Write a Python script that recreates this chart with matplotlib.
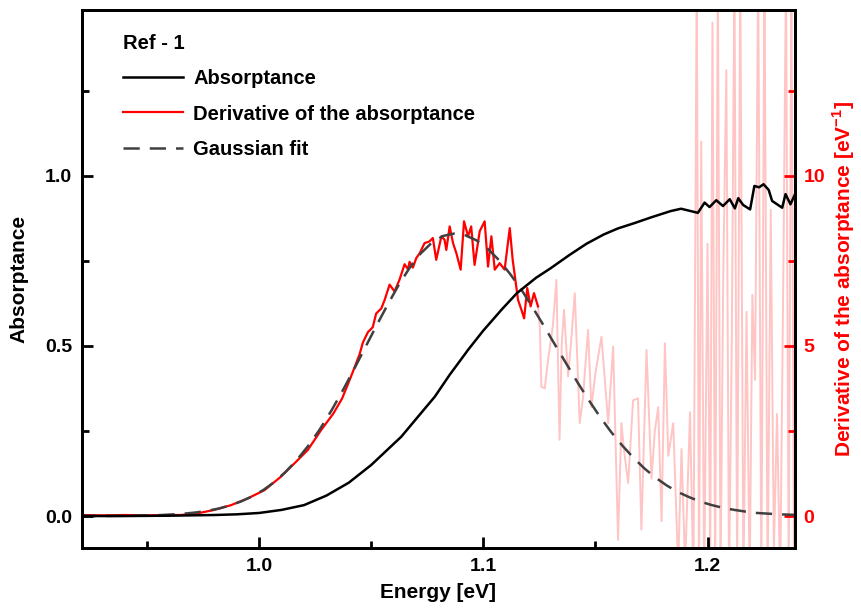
import matplotlib
matplotlib.use("Agg")
import matplotlib.pyplot as plt
from matplotlib.ticker import MultipleLocator

plt.rcParams['font.family'] = ['Liberation Sans', 'DejaVu Sans']
plt.rcParams['font.weight'] = 'bold'
plt.rcParams['mathtext.fontset'] = 'custom'
plt.rcParams['mathtext.bf'] = 'Liberation Sans:bold'
plt.rcParams['mathtext.rm'] = 'Liberation Sans:bold'

# absorptance (left axis)
abs_e = [0.920, 0.940, 0.960, 0.980, 0.990, 1.000, 1.010, 1.020, 1.030, 1.040,
         1.050, 1.0634, 1.070, 1.0784, 1.085, 1.0934, 1.100, 1.1085, 1.115, 1.1235,
         1.130, 1.1384, 1.146, 1.1536, 1.160, 1.1675, 1.175, 1.1835, 1.1882, 1.1957,
         1.1987, 1.2009, 1.2039, 1.2069, 1.2099, 1.2122, 1.2137, 1.2159, 1.219, 1.2209,
         1.2230, 1.2250, 1.2273, 1.2288, 1.2333, 1.2348, 1.2370, 1.2393, 1.2408]
abs_a = [0.000, 0.000, 0.001, 0.003, 0.005, 0.009, 0.018, 0.032, 0.060, 0.098,
         0.150, 0.233, 0.285, 0.351, 0.415, 0.490, 0.545, 0.609, 0.655, 0.700,
         0.728, 0.767, 0.800, 0.827, 0.845, 0.861, 0.878, 0.896, 0.903, 0.891,
         0.921, 0.908, 0.928, 0.911, 0.931, 0.904, 0.934, 0.914, 0.901, 0.970,
         0.966, 0.975, 0.958, 0.926, 0.906, 0.946, 0.916, 0.950, 0.931]

# derivative of the absorptance, fitted range (right axis)
der_e = [0.920, 0.930, 0.940, 0.950, 0.960, 0.965, 0.9726, 0.980, 0.9875, 0.995,
         1.0024, 1.0098, 1.0158, 1.0217, 1.0277, 1.033, 1.037, 1.041, 1.0448, 1.0463,
         1.0485, 1.0507, 1.0522, 1.0545, 1.056, 1.0582, 1.0604, 1.0626, 1.0649, 1.0664,
         1.0671, 1.0686, 1.0701, 1.0716, 1.0738, 1.076, 1.0775, 1.079, 1.0813, 1.0827,
         1.0835, 1.085, 1.0865, 1.088, 1.0899, 1.0914, 1.0932, 1.0946, 1.0961, 1.0984,
         1.1006, 1.1021, 1.1036, 1.1051, 1.1073, 1.1095, 1.1118, 1.1131, 1.1155, 1.1170,
         1.1182, 1.1196, 1.1211, 1.1226, 1.1244]
der_d = [0.03, 0.02, 0.03, 0.02, 0.03, 0.03, 0.08, 0.18, 0.32, 0.52,
         0.76, 1.16, 1.55, 1.94, 2.53, 3.00, 3.45, 4.10, 4.75, 5.10,
         5.40, 5.55, 5.95, 6.10, 6.35, 6.80, 6.60, 6.94, 7.40, 7.25,
         7.47, 7.30, 7.58, 7.72, 8.02, 8.07, 8.17, 7.53, 8.22, 8.12,
         7.82, 8.51, 8.02, 7.72, 7.24, 8.66, 8.22, 8.51, 7.38, 8.37,
         8.66, 7.33, 8.22, 7.24, 7.43, 7.24, 8.46, 7.53, 6.35, 6.06,
         5.81, 6.70, 6.16, 6.55, 6.16]

# derivative of the absorptance, noisy high-energy part
noise_e = [1.1244, 1.1252, 1.1259, 1.1274, 1.1289, 1.1310, 1.1326, 1.1340, 1.1350, 1.1360,
           1.1378, 1.1390, 1.1408, 1.1430, 1.1445, 1.1467, 1.1482, 1.1500, 1.1527, 1.1557,
           1.1579, 1.1601, 1.1616, 1.1630, 1.1646, 1.1668, 1.1690, 1.1705, 1.1728, 1.1750,
           1.1765, 1.1780, 1.1795, 1.1810, 1.1825, 1.1847, 1.1869, 1.1884, 1.1900, 1.1922,
           1.1937, 1.1952, 1.1962, 1.1972, 1.1985, 1.2000, 1.2012, 1.2022, 1.2034, 1.2046,
           1.2058, 1.2070, 1.2084, 1.2096, 1.2108, 1.2120, 1.2132, 1.2146, 1.2160, 1.2174,
           1.2188, 1.2200, 1.2212, 1.2226, 1.2240, 1.2254, 1.2268, 1.2282, 1.2296, 1.2310,
           1.2324, 1.2338, 1.2350, 1.2362, 1.2374, 1.2386, 1.2398, 1.2408]
noise_d = [6.16, 5.57, 3.80, 3.75, 4.60, 5.57, 6.94, 2.24, 5.10, 6.06,
           4.10, 5.00, 6.55, 2.73, 3.50, 5.47, 3.20, 4.20, 5.27, 2.73,
           4.98, -0.70, 2.73, 1.80, 0.97, 3.40, 3.46, -0.40, 4.88, 1.10,
           2.50, 3.20, -0.15, 5.08, 1.77, 2.73, -1.50, 1.97, -1.50, 3.05,
           -2.00, 16.0, -2.0, 11.0, -2.0, 8.0, -1.5, 14.5, -2.0, 16.0,
           -2.0, 7.0, 13.1, -2.0, 5.0, 16.0, -2.0, 16.0, -2.0, 6.0,
           -2.0, 6.5, 4.0, 16.0, -2.0, 16.0, -2.0, 9.0, -1.0, 3.0,
           -2.0, 7.0, 16.0, -2.0, 16.0, -2.0, 16.0, -2.0]

# Gaussian fit (right axis)
fit_e = [0.920, 0.927, 0.932, 0.937, 0.942, 0.947, 0.952, 0.957, 0.962, 0.967,
         0.972, 0.977, 0.982, 0.987, 0.992, 0.997, 1.002, 1.007, 1.012, 1.017,
         1.022, 1.027, 1.032, 1.037, 1.042, 1.047, 1.052, 1.057, 1.062, 1.067,
         1.072, 1.077, 1.082, 1.087, 1.092, 1.097, 1.102, 1.107, 1.112, 1.117,
         1.122, 1.127, 1.132, 1.137, 1.142, 1.147, 1.152, 1.157, 1.162, 1.167,
         1.172, 1.177, 1.182, 1.187, 1.192, 1.197, 1.202, 1.207, 1.212, 1.217,
         1.222, 1.227, 1.232, 1.237, 1.240]
fit_d = [0.001, 0.002, 0.003, 0.005, 0.008, 0.013, 0.021, 0.032, 0.049, 0.073,
         0.107, 0.155, 0.22, 0.31, 0.43, 0.58, 0.77, 1.01, 1.31, 1.66,
         2.07, 2.54, 3.07, 3.65, 4.27, 4.91, 5.55, 6.17, 6.76, 7.28,
         7.71, 8.03, 8.23, 8.30, 8.25, 8.10, 7.85, 7.52, 7.11, 6.65,
         6.13, 5.59, 5.03, 4.48, 3.93, 3.41, 2.92, 2.47, 2.07, 1.71,
         1.39, 1.12, 0.89, 0.70, 0.55, 0.42, 0.32, 0.24, 0.18, 0.13,
         0.09, 0.07, 0.05, 0.04, 0.03]

fig = plt.figure(figsize=(8.61, 6.10), dpi=100)
ax = fig.add_axes([0.0952, 0.1016, 0.8281, 0.8820])
ax2 = ax.twinx()

# keep the absorptance curve on top of the derivative axis
ax.set_zorder(ax2.get_zorder() + 1)
ax.patch.set_visible(False)

ax2.plot(noise_e, noise_d, color='#ffc4c4', lw=1.4, zorder=1)
ax2.plot(der_e, der_d, color='#ff0000', lw=1.6, zorder=2,
         label='Derivative of the absorptance')
ax2.plot(fit_e, fit_d, color='#404040', lw=1.8, dashes=(6.5, 4), zorder=3,
         label='Gaussian fit')
ax.plot(abs_e, abs_a, color='black', lw=1.8, label='Absorptance')

ax.set_xlim(0.921, 1.239)
ax.set_ylim(-0.094, 1.487)
ax2.set_ylim(-0.94, 14.87)

ax.xaxis.set_major_locator(MultipleLocator(0.1))
ax.xaxis.set_minor_locator(MultipleLocator(0.05))
ax.yaxis.set_major_locator(MultipleLocator(0.5))
ax.yaxis.set_minor_locator(MultipleLocator(0.25))
ax2.yaxis.set_major_locator(MultipleLocator(5))
ax2.yaxis.set_minor_locator(MultipleLocator(2.5))

for a in (ax, ax2):
    for s in a.spines.values():
        s.set_linewidth(2)
ax.tick_params(axis='both', which='major', direction='in', length=8, width=2,
               labelsize=14, top=False, pad=7)
ax.tick_params(axis='both', which='minor', direction='in', length=5, width=2, top=False)
ax2.tick_params(axis='y', which='major', direction='in', length=8, width=2,
                labelsize=14, colors='red', pad=6)
ax2.tick_params(axis='y', which='minor', direction='in', length=5, width=2, colors='red')

ax.set_xlabel('Energy [eV]', fontsize=15, fontweight='bold', labelpad=6)
ax.set_ylabel('Absorptance', fontsize=15, fontweight='bold', labelpad=12)
ax2.set_ylabel('Derivative of the absorptance [eV$^{-1}$]', fontsize=15,
               fontweight='bold', color='red', labelpad=4)

h1, l1 = ax.get_legend_handles_labels()
h2, l2 = ax2.get_legend_handles_labels()
leg = ax.legend(h1 + h2, l1 + l2, title='Ref - 1', loc='upper left',
                bbox_to_anchor=(0.032, 0.99), frameon=False,
                prop={'size': 14.5, 'weight': 'bold'},
                title_fontproperties={'size': 14.5, 'weight': 'bold'},
                handlelength=3.0, handletextpad=0.5, labelspacing=0.82)
leg._legend_box.align = 'left'

fig.savefig('out.png', dpi=100)
